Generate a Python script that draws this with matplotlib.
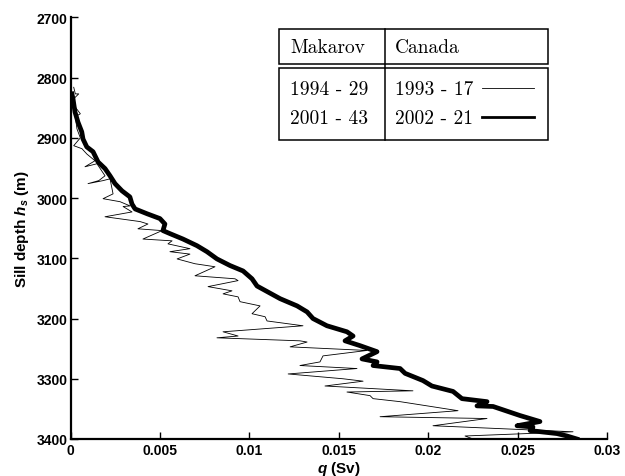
import matplotlib
matplotlib.use('Agg')
import matplotlib.pyplot as plt
from matplotlib.lines import Line2D
from matplotlib.patches import Rectangle

# Canada 1993-17 profile (thin line): transport q (Sv) vs sill depth (m)
q_1993 = [0.00018, 0.00027, 0.00046, 0.00018, 0.00027, 0.00055, 0.00027, 0.00036,
          0.00055, 0.00018, 0.00064, 0.00092, 0.00137, 0.00081, 0.00148, 0.00193,
          0.00158, 0.00098, 0.00182, 0.00221, 0.00238, 0.00182, 0.00277, 0.00333,
          0.00294, 0.00344, 0.00193, 0.00389, 0.00433, 0.00377, 0.00512, 0.00405,
          0.00568, 0.00545, 0.00668, 0.00556, 0.00668, 0.00596, 0.00696, 0.00808,
          0.00696, 0.0092, 0.00937, 0.00769, 0.00903, 0.00853, 0.00937, 0.00948,
          0.0106, 0.01015, 0.01088, 0.01099, 0.013, 0.00853, 0.00937, 0.00819,
          0.01283, 0.01323, 0.01228, 0.01658, 0.01412, 0.01395, 0.01283, 0.01602,
          0.01217, 0.01524, 0.01636, 0.01423, 0.01915, 0.01546, 0.01675, 0.01692,
          0.01843, 0.02167, 0.01731, 0.02329, 0.02027, 0.02810, 0.02206, 0.02251]
d_1993 = [2816, 2827, 2827, 2835, 2849, 2860, 2865, 2885,
          2900, 2913, 2918, 2927, 2938, 2948, 2943, 2963,
          2971, 2976, 2971, 2968, 2993, 3001, 3006, 3013,
          3014, 3023, 3031, 3039, 3043, 3051, 3054, 3068,
          3071, 3076, 3084, 3089, 3093, 3101, 3109, 3114,
          3129, 3134, 3137, 3147, 3154, 3159, 3164, 3172,
          3179, 3192, 3197, 3204, 3212, 3222, 3229, 3232,
          3237, 3239, 3247, 3253, 3262, 3272, 3278, 3283,
          3292, 3300, 3304, 3312, 3320, 3322, 3328, 3333,
          3338, 3353, 3363, 3366, 3378, 3388, 3395, 3400]

# Canada 2002-21 profile (thick line)
q_2002 = [0.00008, 0.00014, 0.00025, 0.00042, 0.00063, 0.0007, 0.00091, 0.00126,
          0.00154, 0.00193, 0.00221, 0.00249, 0.00288, 0.00332, 0.00344, 0.00361,
          0.00428, 0.005, 0.00528, 0.00517, 0.00556, 0.00629, 0.00707, 0.00763,
          0.00819, 0.00892, 0.00965, 0.01015, 0.01043, 0.01172, 0.01267, 0.01323,
          0.01356, 0.01434, 0.01546, 0.0158, 0.01535, 0.01619, 0.01714, 0.0163,
          0.01714, 0.01692, 0.01843, 0.01871, 0.01971, 0.02021, 0.02139, 0.02189,
          0.02329, 0.02273, 0.02363, 0.02513, 0.02625, 0.02497, 0.02586, 0.0257,
          0.0272, 0.02776, 0.02832]
d_2002 = [2827, 2835, 2857, 2874, 2890, 2902, 2915, 2923,
          2940, 2951, 2963, 2976, 2988, 2998, 3010, 3018,
          3026, 3034, 3043, 3054, 3059, 3068, 3079, 3089,
          3101, 3112, 3121, 3134, 3146, 3167, 3179, 3189,
          3200, 3212, 3222, 3229, 3237, 3245, 3255, 3267,
          3272, 3278, 3283, 3291, 3303, 3312, 3321, 3333,
          3338, 3345, 3346, 3361, 3371, 3378, 3380, 3386,
          3391, 3395, 3400]

x_ticks = [0, 0.005, 0.01, 0.015, 0.02, 0.025, 0.03]
x_tick_labels = ['0', '0.005', '0.01', '0.015', '0.02', '0.025', '0.03']
y_ticks = [2700, 2800, 2900, 3000, 3100, 3200, 3300, 3400]

makarov_rows = ['1994 - 29', '2001 - 43']
canada_rows = ['1993 - 17', '2002 - 21']

plt.rcParams['font.family'] = ['Liberation Sans', 'DejaVu Sans']
plt.rcParams['mathtext.fontset'] = 'custom'
plt.rcParams['mathtext.it'] = 'Liberation Sans:italic:bold'
plt.rcParams['mathtext.rm'] = 'Liberation Sans:bold'

W, H = 625, 477
fig = plt.figure(figsize=(W / 100, H / 100), dpi=100)
ax = fig.add_axes([70.5 / W, 1 - 440 / H, 536.5 / W, 421.6 / H])

ax.plot(q_1993, d_1993, color='black', lw=0.6)
ax.plot(q_2002, d_2002, color='black', lw=3.4, solid_joinstyle='round')

ax.set_xlim(0, 0.03)
ax.set_ylim(3400, 2700)
ax.set_xticks(x_ticks)
ax.set_xticklabels(x_tick_labels)
ax.set_yticks(y_ticks)
for lab in ax.get_xticklabels() + ax.get_yticklabels():
    lab.set_fontweight('bold')
ax.tick_params(direction='in', length=5, width=1, labelsize=10, pad=3)
ax.tick_params(axis='y', pad=2)
ax.spines['top'].set_visible(False)
ax.spines['right'].set_visible(False)
ax.spines['left'].set_linewidth(1.6)
ax.spines['bottom'].set_linewidth(1.6)

ax.set_xlabel('$q$ (Sv)', fontsize=11, fontweight='bold', labelpad=1)
ax.set_ylabel('Sill depth $h_s$ (m)', fontsize=11, fontweight='bold', labelpad=4)


# legend drawn as a small table, positions in pixels from the top-left
def fx(px):
    return px / W


def fy(py):
    return 1 - py / H


tf = fig.transFigure
box_kw = dict(fill=False, lw=1.1, ec='black', transform=tf)
fig.add_artist(Rectangle((fx(279), fy(65)), fx(548) - fx(279), fy(30) - fy(65), **box_kw))
fig.add_artist(Rectangle((fx(279), fy(141)), fx(548) - fx(279), fy(69) - fy(141), **box_kw))
fig.add_artist(Line2D([fx(385), fx(385)], [fy(30), fy(141)], color='black', lw=1.1, transform=tf))

serif = dict(family='cmr10', fontsize=14, va='center', ha='left', transform=tf)
fig.text(fx(290), fy(48), 'Makarov', **serif)
fig.text(fx(395), fy(48), 'Canada', **serif)
row_y = [90, 119]
line_w = [0.6, 2.0]
for i in range(2):
    fig.text(fx(290), fy(row_y[i]), makarov_rows[i], **serif)
    fig.text(fx(395), fy(row_y[i]), canada_rows[i], **serif)
    fig.add_artist(Line2D([fx(482), fx(534)], [fy(row_y[i] - 1), fy(row_y[i] - 1)],
                          color='black', lw=line_w[i], transform=tf))

fig.savefig('out.png', dpi=100)
